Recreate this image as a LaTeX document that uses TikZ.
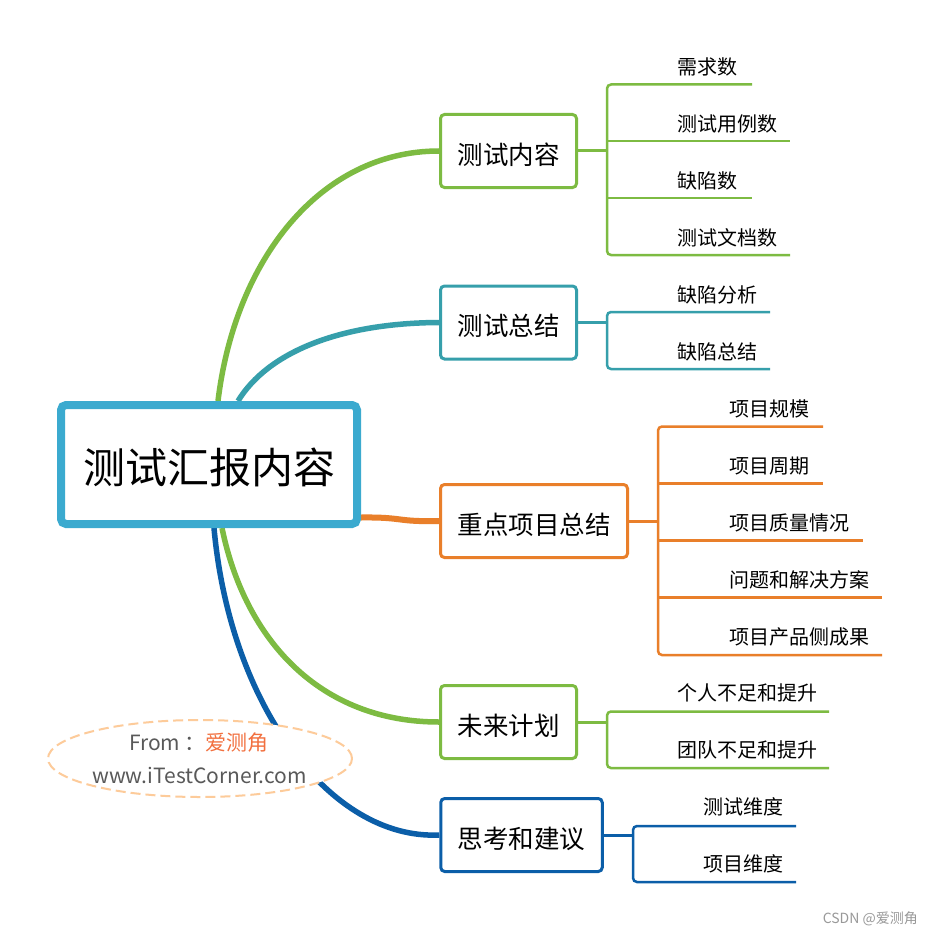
\documentclass[tikz,border=0pt]{standalone}
\usepackage{fontspec}
\setmainfont{Noto Sans CJK SC}
\usetikzlibrary{calc,shapes.geometric}
\definecolor{cmain}{HTML}{3BAACF}
\definecolor{cgreen}{HTML}{7DBB42}
\definecolor{cteal}{HTML}{369FAB}
\definecolor{corange}{HTML}{E97F2A}
\definecolor{cdblue}{HTML}{0B5EA8}
\definecolor{cell}{HTML}{FDCB9A}
\definecolor{cgray}{HTML}{595959}
\definecolor{ctxtor}{HTML}{F2703F}
\definecolor{cwm}{HTML}{999999}
\pgfdeclarelayer{bg}
\pgfsetlayers{bg,main}
\begin{document}
\begin{tikzpicture}[x=1pt,y=-1pt,
  centerbox/.style={draw=cmain, line width=8pt, rounded corners=5pt, fill=white,
    minimum width=296pt, minimum height=119pt, inner sep=0pt,
    text height=42.3pt, text depth=3.4pt,
    font=\fontsize{42}{48}\selectfont},
  branch/.style={draw=#1, line width=3pt, rounded corners=4pt, fill=white,
    minimum height=73pt, inner xsep=17pt, inner ysep=0pt,
    text height=28.4pt, text depth=2pt,
    font=\fontsize{25.5}{30}\selectfont},
  mcurve/.style={draw=#1, line width=5.5pt},
  leafline/.style={draw=#1, line width=2.5pt},
  leaf/.style={anchor=west, inner sep=0pt, font=\fontsize{20}{24}\selectfont},
  srctext/.style={inner sep=0pt, font=\fontsize{21}{24}\selectfont, text=cgray},
]
\useasboundingbox (0,0) rectangle (932,936);
\begin{pgfonlayer}{bg}
\fill[white] (0,0) rectangle (932,936);
\end{pgfonlayer}

% central node and branches
\node[centerbox] (c) at (209,464.5) {测试汇报内容};
\node[branch=cgreen] (b1) at (508.5,151) {测试内容};
\node[branch=cteal] (b2) at (508.5,322.5) {测试总结};
\node[branch=corange] (b3) at (534,521) {重点项目总结};
\node[branch=cgreen] (b4) at (508.5,722) {未来计划};
\node[branch=cdblue] (b5) at (521.5,835) {思考和建议};

\begin{pgfonlayer}{bg}
\draw[mcurve=cgreen] ([xshift=9pt]c.north) .. controls (235,260) and (320,151) .. (b1.west);
\draw[mcurve=cteal] ([xshift=29pt]c.north) .. controls (268,352) and (340,323) .. (b2.west);
\draw[mcurve=corange, line width=6pt] ([yshift=-53pt]c.east) .. controls (405,517) and (395,522) .. (b3.west);
\draw[mcurve=cgreen] ([xshift=13pt]c.south) .. controls (245,640) and (320,722) .. (b4.west);
\draw[mcurve=cdblue] ([xshift=5pt]c.south) .. controls (230,705) and (330,840) .. (b5.west);
\end{pgfonlayer}

% branch 1
\coordinate (k1) at (607,151);
\draw[leafline=cgreen, line width=3pt] (b1.east) -- (k1);
\draw[leafline=cgreen, rounded corners=4pt] (752,84.5) -- (607,84.5) -- (607,255) -- (790,255);
\draw[leafline=cgreen] (607,141) -- (790,141);
\draw[leafline=cgreen] (607,198) -- (752,198);
\node[leaf] (l11) at (677,67) {需求数};
\node[leaf] (l12) at (677,124) {测试用例数};
\node[leaf] (l13) at (677,181) {缺陷数};
\node[leaf] (l14) at (677,238) {测试文档数};

% branch 2
\coordinate (k2) at (607,322.5);
\draw[leafline=cteal, line width=3pt] (b2.east) -- (k2);
\draw[leafline=cteal, rounded corners=4pt] (770,312) -- (607,312) -- (607,369) -- (770,369);
\node[leaf] (l21) at (677,295) {缺陷分析};
\node[leaf] (l22) at (677,352) {缺陷总结};

% branch 3
\coordinate (k3) at (658,521);
\draw[leafline=corange, line width=3pt] (b3.east) -- (k3);
\draw[leafline=corange, rounded corners=4pt] (823,426.5) -- (658,426.5) -- (658,655) -- (882,655);
\draw[leafline=corange] (658,483.5) -- (823,483.5);
\draw[leafline=corange] (658,540.5) -- (863,540.5);
\draw[leafline=corange] (658,597.5) -- (882,597.5);
\node[leaf] (l31) at (729,409) {项目规模};
\node[leaf] (l32) at (729,466) {项目周期};
\node[leaf] (l33) at (729,523) {项目质量情况};
\node[leaf] (l34) at (729,580) {问题和解决方案};
\node[leaf] (l35) at (729,637) {项目产品侧成果};

% branch 4
\coordinate (k4) at (607,722);
\draw[leafline=cgreen, line width=3pt] (b4.east) -- (k4);
\draw[leafline=cgreen, rounded corners=4pt] (829,711.5) -- (607,711.5) -- (607,768) -- (829,768);
\node[leaf] (l41) at (677,693) {个人不足和提升};
\node[leaf] (l42) at (677,750) {团队不足和提升};

% branch 5
\coordinate (k5) at (633,835);
\draw[leafline=cdblue, line width=3pt] (b5.east) -- (k5);
\draw[leafline=cdblue, rounded corners=4pt] (796,826) -- (633,826) -- (633,882) -- (796,882);
\node[leaf] (l51) at (703,807) {测试维度};
\node[leaf] (l52) at (703,864) {项目维度};

% source ellipse
\node[ellipse, draw=cell, fill=white, line width=2pt, dash pattern=on 10pt off 5pt,
  minimum width=304pt, minimum height=77pt, inner sep=0pt] (src) at (200,758.5) {};
\node[srctext] (from) at (199,743) {From ：\textcolor{ctxtor}{爱测角}};
\node[srctext] (url) at (199.5,775) {www.iTestCorner.com};

% watermark
\node[anchor=east, inner sep=0pt, font=\fontsize{14}{16}\selectfont, text=cwm] (wm) at (918,919)
  {CSDN @爱测角};
\end{tikzpicture}
\end{document}
